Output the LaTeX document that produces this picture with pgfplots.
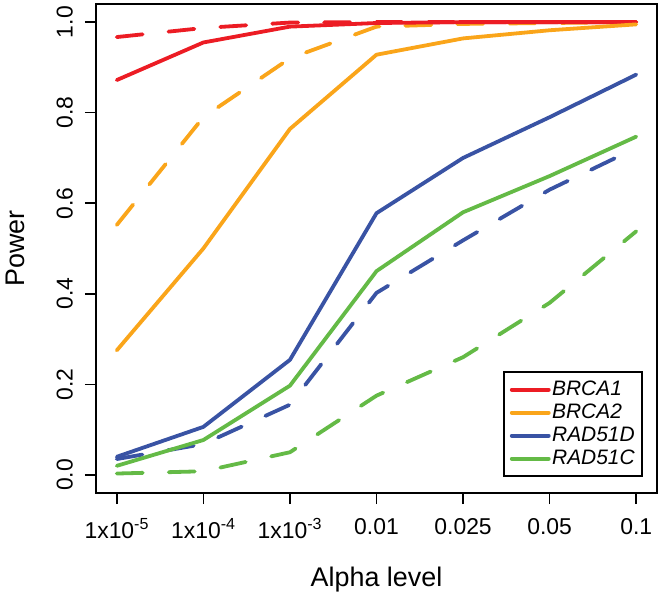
\documentclass[border=0pt]{standalone}
\usepackage{fontspec}
\setmainfont{Liberation Sans}
\usepackage{pgfplots}
\pgfplotsset{compat=1.18}
\definecolor{cred}{RGB}{236,28,36}
\definecolor{corange}{RGB}{250,165,26}
\definecolor{cblue}{RGB}{57,83,164}
\definecolor{cgreen}{RGB}{100,186,70}
\begin{document}
\begin{tikzpicture}
\begin{axis}[
  scale only axis,
  width=561bp, height=489bp,
  xmin=-0.24, xmax=6.24,
  ymin=-0.04, ymax=1.04,
  axis line style={line width=1.6bp},
  tick style={line width=1.6bp, black},
  major tick length=11bp,
  tick align=outside,
  xtick={0,1,2,3,4,5,6},
  xticklabels={1x10\textsuperscript{-5},1x10\textsuperscript{-4},1x10\textsuperscript{-3},0.01,0.025,0.05,0.1},
  ytick={0,0.2,0.4,0.6,0.8,1.0},
  yticklabels={0.0,0.2,0.4,0.6,0.8,1.0},
  xtick pos=bottom, ytick pos=left,
  xticklabel style={font=\fontsize{23}{27}\selectfont, yshift=-11bp},
  yticklabel style={font=\fontsize{23}{27}\selectfont, rotate=90, anchor=south, inner ysep=12bp},
  every axis x label/.style={at={(axis description cs:0.5,0)}, anchor=base, yshift=-93bp, font=\fontsize{27}{30}\selectfont},
  every axis y label/.style={at={(axis description cs:-0.128,0.5)}, rotate=90, anchor=base, font=\fontsize{27}{30}\selectfont},
  xlabel={Alpha level},
  ylabel={Power},
  legend style={at={(axis description cs:1,0)}, anchor=south east, xshift=-14bp, yshift=16bp,
    draw=black, line width=1.6bp, font=\fontsize{21}{23}\selectfont\itshape,
    inner xsep=6bp, inner ysep=6bp, row sep=0pt,
    nodes={inner sep=1.5bp, text height=15.5bp, text depth=4.5bp}},
  legend cell align=left,
  legend image code/.code={\draw[line width=3.8bp, line cap=round, solid] (0bp,0bp) -- (37bp,0bp);},
  every axis plot/.append style={line width=3.8bp, line cap=round, line join=round},
  dsh/.style={dash pattern=on 26bp off 26bp},
]
% dashed series
\addplot[cred, dsh, forget plot] coordinates {(0,0.967) (1,0.987) (2,0.999) (3,1.0) (4,1.0) (5,1.0) (6,1.0)};
\addplot[corange, dsh, forget plot] coordinates {(0,0.552) (1,0.79) (2,0.92) (3,0.99) (4,0.996) (5,0.998) (6,1.0)};
\addplot[cblue, dsh, forget plot] coordinates {(0,0.035) (1,0.068) (2,0.155) (3,0.402) (4,0.518) (5,0.63) (6,0.722)};
\addplot[cgreen, dsh, forget plot] coordinates {(0,0.003) (1,0.008) (2,0.05) (3,0.175) (4,0.26) (5,0.38) (6,0.538)};
% solid series
\addplot[cred] coordinates {(0,0.872) (1,0.955) (2,0.99) (3,0.998) (4,1.0) (5,1.0) (6,1.0)};
\addlegendentry{BRCA1}
\addplot[corange] coordinates {(0,0.275) (1,0.50) (2,0.764) (3,0.928) (4,0.964) (5,0.982) (6,0.995)};
\addlegendentry{BRCA2}
\addplot[cblue] coordinates {(0,0.04) (1,0.106) (2,0.254) (3,0.578) (4,0.70) (5,0.79) (6,0.884)};
\addlegendentry{RAD51D}
\addplot[cgreen] coordinates {(0,0.02) (1,0.077) (2,0.197) (3,0.45) (4,0.58) (5,0.66) (6,0.747)};
\addlegendentry{RAD51C}
\end{axis}
\path (current axis.south west) ++(-96bp,-104bp) coordinate (bl);
\path (current axis.north east) ++(4bp,4bp) coordinate (tr);
\path (bl) rectangle (tr);
\end{tikzpicture}
\end{document}
